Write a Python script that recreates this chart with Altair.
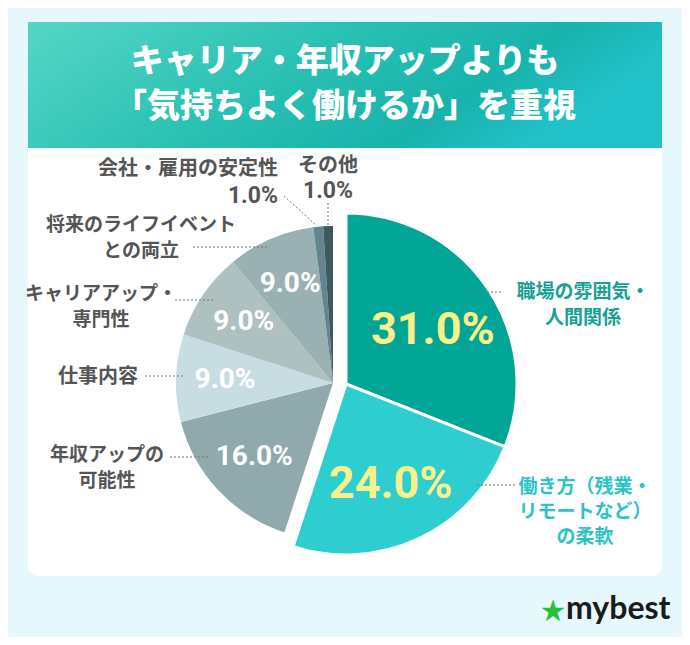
import math
import altair as alt
import pandas as pd

# ---------------- data ----------------
categories = [
    "職場の雰囲気・人間関係",
    "働き方（残業・リモートなど）の柔軟",
    "年収アップの可能性",
    "仕事内容",
    "キャリアアップ・専門性",
    "将来のライフイベントとの両立",
    "会社・雇用の安定性",
    "その他",
]
values = [31.0, 24.0, 16.0, 9.0, 9.0, 9.0, 1.0, 1.0]
label_lines = [
    ["職場の雰囲気・", "人間関係"],
    ["働き方（残業・", "リモートなど）", "の柔軟"],
    ["年収アップの", "可能性"],
    ["仕事内容"],
    ["キャリアアップ・", "専門性"],
    ["将来のライフイベント", "との両立"],
    ["会社・雇用の安定性"],
    ["その他"],
]
highlight = [True, True, False, False, False, False, False, False]
title_lines = ["キャリア・年収アップよりも", "「気持ちよく働けるか」を重視"]
brand = "mybest"

# ---------------- styles / layout ----------------
slice_colors = ["#00A596", "#2DCDD0", "#90A9AD", "#C8DDE2", "#AFC0C0", "#9AB1B4", "#618690", "#3E5A5F"]
label_colors = ["#17A194", "#2CC3C6", "#555555", "#555555", "#555555", "#555555", "#555555", "#555555"]
OFF = 8  # page margin; layout below is in page pixels
W, H = 674, 629
BG = "#E6F8FC"
NUM_FONT = "Roboto"
JP_FONT = "Noto Sans CJK JP"

grey_center = (333 - OFF, 383 - OFF)
grey_r = 157
hl_center = (346 - OFF, 384 - OFF)
hl_r = 171

# label block layout per category: (x, first line y, line height, align)
label_layout = [
    (583, 292, 26, "center"),
    (585, 487, 25, "center"),
    (107, 455, 26, "center"),
    (138, 377, 25, "right"),
    (101, 294, 26, "center"),
    (141, 225, 26, "center"),
    (278, 169, 25, "right"),
    (328, 166, 25, "center"),
]
# leader lines (x1, y1, x2, y2)
leaders = [
    (467, 292, 503, 292),
    (477, 485, 515, 485),
    (170, 457, 208, 457),
    (145, 376, 183, 376),
    (175, 300, 213, 300),
    (193, 247, 268, 247),
    (284, 196, 317, 226),
    (328, 203, 328, 226),
]
# outside percentage labels for the small slices: (x, y, align)
outside_pct = {6: (278, 196, "right"), 7: (328, 191, "center")}

# ---------------- frames ----------------
df = pd.DataFrame({
    "cat": categories,
    "value": values,
    "order": list(range(len(values))),
    "color": slice_colors,
    "hl": highlight,
})

line_rows = []
for i, lines in enumerate(label_lines):
    x, y0, lh, al = label_layout[i]
    fs = 20 if len(lines) == 1 else 19
    for j, t in enumerate(lines):
        line_rows.append({"t": t, "px": x - OFF, "py": y0 + j * lh - OFF,
                          "al": al, "col": label_colors[i], "fs": fs})
df_lines = pd.DataFrame(line_rows)

df_lead = pd.DataFrame([{"x1": a - OFF, "y1": b - OFF, "x2": c - OFF, "y2": d - OFF}
                        for a, b, c, d in leaders])

out_rows = []
for i, (x, y, al) in outside_pct.items():
    out_rows.append({"t": f"{values[i]:.1f}%", "px": x - OFF, "py": y - OFF, "al": al})
df_out = pd.DataFrame(out_rows)

one = pd.DataFrame({"a": [0]})

theta_scale = alt.Scale(domain=[0, 100], range=[0, 2 * math.pi])

base = (
    alt.Chart(df)
    .transform_window(cum="sum(value)", sort=[alt.SortField("order")], frame=[None, 0])
    .transform_calculate(start="datum.cum - datum.value",
                         mid="datum.cum - datum.value / 2",
                         pct="format(datum.value, '.1f') + '%'")
)

# background pieces
header = alt.Chart(one).mark_rect(
    fill=alt.Gradient(
        gradient="linear",
        stops=[alt.GradientStop(color="#55D6C6", offset=0),
               alt.GradientStop(color="#2CC2B4", offset=0.45),
               alt.GradientStop(color="#17B3AC", offset=0.8),
               alt.GradientStop(color="#22C2CB", offset=1)],
        x1=0, x2=1, y1=0, y2=0.3,
    )
).encode(x=alt.value(28 - OFF), x2=alt.value(662 - OFF), y=alt.value(22 - OFF), y2=alt.value(148 - OFF))

card = alt.Chart(one).mark_rect(
    fill="white", cornerRadiusBottomLeft=10, cornerRadiusBottomRight=10
).encode(x=alt.value(28 - OFF), x2=alt.value(662 - OFF), y=alt.value(148 - OFF), y2=alt.value(576 - OFF))

title_df = pd.DataFrame({"t": title_lines, "py": [62 - OFF, 107 - OFF]})
title = alt.Chart(title_df).mark_text(
    font=JP_FONT, fontSize=33, fontWeight=900, color="white", align="center", baseline="middle"
).encode(x=alt.value(345 - OFF), y=alt.Y("py:Q", scale=None, axis=None), text="t:N")

# pie slices
grey_arcs = base.transform_filter("!datum.hl").mark_arc(radius=grey_r).encode(
    theta=alt.Theta("start:Q", scale=theta_scale, stack=None),
    theta2="cum:Q",
    color=alt.Color("color:N", scale=None),
    x=alt.value(grey_center[0]), y=alt.value(grey_center[1]),
)
hl_arcs = base.transform_filter("datum.hl").mark_arc(
    radius=hl_r, stroke="white", strokeWidth=3, strokeJoin="miter"
).encode(
    theta=alt.Theta("start:Q", scale=theta_scale, stack=None),
    theta2="cum:Q",
    color=alt.Color("color:N", scale=None),
    x=alt.value(hl_center[0]), y=alt.value(hl_center[1]),
)

# inner percentage labels
grey_pct = base.transform_filter("!datum.hl && datum.value > 5").mark_text(
    radius=108, font=NUM_FONT, fontSize=28, fontWeight="bold", color="white",
    align="center", baseline="middle"
).encode(
    theta=alt.Theta("mid:Q", scale=theta_scale, stack=None),
    text="pct:N",
    x=alt.value(grey_center[0]), y=alt.value(grey_center[1]),
)
hl_pct = base.transform_filter("datum.hl").mark_text(
    radius=105, dy=5, font=NUM_FONT, fontSize=45, fontWeight="bold", color="#FAF08A",
    align="center", baseline="middle"
).encode(
    theta=alt.Theta("mid:Q", scale=theta_scale, stack=None),
    text="pct:N",
    x=alt.value(hl_center[0]), y=alt.value(hl_center[1]),
)

# leaders
lead = alt.Chart(df_lead).mark_rule(color="#777777", strokeWidth=1, strokeDash=[2, 2]).encode(
    x=alt.X("x1:Q", scale=None, axis=None), y=alt.Y("y1:Q", scale=None, axis=None),
    x2="x2:Q", y2="y2:Q",
)

# category labels (one layer per alignment)
def label_layer(al):
    return alt.Chart(df_lines[df_lines["al"] == al]).mark_text(
        font=JP_FONT, fontWeight="bold", align=al, baseline="middle"
    ).encode(
        x=alt.X("px:Q", scale=None, axis=None), y=alt.Y("py:Q", scale=None, axis=None),
        text="t:N", color=alt.Color("col:N", scale=None),
        size=alt.Size("fs:Q", scale=None, legend=None),
    )

def out_layer(al):
    return alt.Chart(df_out[df_out["al"] == al]).mark_text(
        font=NUM_FONT, fontSize=23, fontWeight="bold", color="#555555", align=al, baseline="middle"
    ).encode(
        x=alt.X("px:Q", scale=None, axis=None), y=alt.Y("py:Q", scale=None, axis=None), text="t:N"
    )

star = alt.Chart(one).mark_text(text="★", fontSize=30, color="#22C33A", align="center", baseline="middle",
                                font="DejaVu Sans").encode(
    x=alt.value(553 - OFF), y=alt.value(612 - OFF))
logo = alt.Chart(pd.DataFrame({"t": [brand]})).mark_text(
    font="Lato", fontSize=32, fontWeight="bold", color="#1B1B1B", align="left", baseline="middle"
).encode(x=alt.value(566 - OFF), y=alt.value(609 - OFF), text="t:N")

chart = alt.layer(
    header, card, title, grey_arcs, hl_arcs, grey_pct, hl_pct, lead,
    label_layer("center"), label_layer("right"), out_layer("center"), out_layer("right"),
    star, logo,
).properties(
    width=W, height=H, padding=0, autosize="none", background=BG
).configure_view(stroke=None)

chart.save("out.html", embed_options={"renderer": "svg", "actions": False})
